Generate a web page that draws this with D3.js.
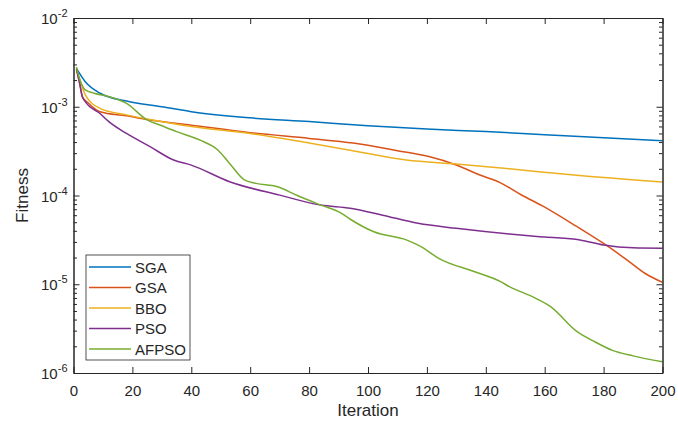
<!DOCTYPE html>
<html>
<head>
<meta charset="utf-8">
<script src="https://cdn.jsdelivr.net/npm/d3@7"></script>
<style>
  body { margin: 0; background: #fff; }
  text { font-family: "Liberation Sans", Arial, sans-serif; fill: #262626; }
</style>
</head>
<body>
<svg id="chart" width="678" height="421"></svg>
<script>
// data (iteration, fitness)
var seriesNames = ["SGA", "GSA", "BBO", "PSO", "AFPSO"];
var seriesColors = ["#0072BD", "#D95319", "#EDB120", "#7E2F8E", "#77AC30"];

var sgaIter = [1, 4, 9, 18, 30, 40, 60, 80, 100, 120, 140, 160, 180, 200];
var sgaVal  = [2.7e-3, 1.91e-3, 1.42e-3, 1.16e-3, 1.0e-3, 8.8e-4, 7.5e-4, 6.8e-4, 6.1e-4, 5.6e-4, 5.25e-4, 4.85e-4, 4.47e-4, 4.15e-4];

var gsaIter = [1, 2, 3, 5, 9, 18, 26, 40, 60, 80, 95, 110, 121, 130, 138, 145, 152, 160, 171, 180, 188, 194, 200];
var gsaVal  = [2.6e-3, 1.9e-3, 1.3e-3, 1.1e-3, 8.8e-4, 7.9e-4, 7.1e-4, 6.2e-4, 5.1e-4, 4.4e-4, 3.9e-4, 3.2e-4, 2.73e-4, 2.21e-4, 1.7e-4, 1.39e-4, 1.02e-4, 7.4e-5, 4.45e-5, 2.88e-5, 1.87e-5, 1.33e-5, 1.05e-5];

var bboIter = [1, 2, 4, 9, 18, 26, 40, 60, 80, 94, 113, 130, 148, 170, 200];
var bboVal  = [2.6e-3, 2.1e-3, 1.36e-3, 9.6e-4, 8.1e-4, 7.2e-4, 6.0e-4, 5.0e-4, 3.9e-4, 3.24e-4, 2.51e-4, 2.26e-4, 2.0e-4, 1.7e-4, 1.42e-4];

var psoIter = [1, 2, 3, 4, 9, 12, 18, 26, 34, 40, 53, 70, 84, 94, 105, 117, 130, 148, 160, 172, 180, 190, 200];
var psoVal  = [2.7e-3, 1.9e-3, 1.3e-3, 1.14e-3, 8.4e-4, 6.8e-4, 5.0e-4, 3.55e-4, 2.51e-4, 2.2e-4, 1.43e-4, 1.01e-4, 7.8e-5, 7.2e-5, 6.0e-5, 4.86e-5, 4.27e-5, 3.68e-5, 3.4e-5, 3.16e-5, 2.77e-5, 2.57e-5, 2.54e-5];

var afpsoIter = [1, 2, 4, 7, 12, 18, 25, 30, 35, 43, 49, 53, 58, 62, 69, 76, 84, 91, 94, 102, 113, 118, 124, 136, 145, 148, 156, 162, 171, 177, 183, 190, 200];
var afpsoVal  = [2.8e-3, 2.1e-3, 1.55e-3, 1.42e-3, 1.3e-3, 1.09e-3, 7.1e-4, 6.1e-4, 5.25e-4, 4.2e-4, 3.26e-4, 2.3e-4, 1.5e-4, 1.37e-4, 1.26e-4, 1.0e-4, 7.8e-5, 6.3e-5, 5.4e-5, 3.9e-5, 3.16e-5, 2.65e-5, 1.96e-5, 1.39e-5, 1.07e-5, 9.4e-6, 7.2e-6, 5.6e-6, 2.92e-6, 2.25e-6, 1.8e-6, 1.56e-6, 1.34e-6];

var xTicks = [0, 20, 40, 60, 80, 100, 120, 140, 160, 180, 200];
var yDecades = [-6, -5, -4, -3, -2];

var allIter = [sgaIter, gsaIter, bboIter, psoIter, afpsoIter];
var allVal = [sgaVal, gsaVal, bboVal, psoVal, afpsoVal];

// layout
var plotL = 73.5, plotR = 662.5, plotT = 18, plotB = 373;
var axisColor = "#262626";

var svg = d3.select("#chart");

var x = d3.scaleLinear().domain([0, 200]).range([plotL, plotR]);
var y = d3.scaleLog().domain([1e-6, 1e-2]).range([plotB, plotT]);

// minor log ticks
var minorVals = [];
yDecades.slice(0, -1).forEach(function(e) {
  for (var k = 2; k <= 9; k++) minorVals.push(k * Math.pow(10, e));
});
var majorVals = yDecades.map(function(e) { return Math.pow(10, e); });

var g = svg.append("g");

// lines
var line = d3.line()
  .curve(d3.curveMonotoneX)
  .x(function(d) { return x(d[0]); })
  .y(function(d) { return y(d[1]); });

seriesNames.forEach(function(name, i) {
  var pts = allIter[i].map(function(it, j) { return [it, allVal[i][j]]; });
  g.append("path")
    .datum(pts)
    .attr("fill", "none")
    .attr("stroke", seriesColors[i])
    .attr("stroke-width", 1.5)
    .attr("stroke-linejoin", "round")
    .attr("d", line);
});

// axes (MATLAB style, ticks inside, box on)
var xAxisB = d3.axisBottom(x).tickValues(xTicks).tickSize(-6).tickPadding(12).tickSizeOuter(0);
var xAxisT = d3.axisTop(x).tickValues(xTicks).tickSize(-6).tickFormat("").tickSizeOuter(0);
var yAxisL = d3.axisLeft(y).tickValues(majorVals).tickSize(-6).tickFormat("").tickSizeOuter(0);
var yAxisR = d3.axisRight(y).tickValues(majorVals).tickSize(-6).tickFormat("").tickSizeOuter(0);
var yMinorL = d3.axisLeft(y).tickValues(minorVals).tickSize(-3.5).tickFormat("").tickSizeOuter(0);
var yMinorR = d3.axisRight(y).tickValues(minorVals).tickSize(-3.5).tickFormat("").tickSizeOuter(0);

function style(sel) {
  sel.selectAll("path, line").attr("stroke", axisColor).attr("stroke-width", 1);
  sel.selectAll("text").attr("fill", axisColor).style("font-size", "15px")
    .style("font-family", "'Liberation Sans', Arial, sans-serif");
}

svg.append("g").attr("transform", "translate(0," + plotB + ")").call(xAxisB).call(style);
svg.append("g").attr("transform", "translate(0," + plotT + ")").call(xAxisT).call(style);
svg.append("g").attr("transform", "translate(" + plotL + ",0)").call(yAxisL).call(style);
svg.append("g").attr("transform", "translate(" + plotR + ",0)").call(yAxisR).call(style);
svg.append("g").attr("transform", "translate(" + plotL + ",0)").call(yMinorL).call(style);
svg.append("g").attr("transform", "translate(" + plotR + ",0)").call(yMinorR).call(style);

// y tick labels as 10^n
var ylab = svg.append("g");
yDecades.forEach(function(e) {
  var t = ylab.append("text")
    .attr("x", plotL - 6)
    .attr("y", y(Math.pow(10, e)) + 6)
    .attr("text-anchor", "end")
    .style("font-size", "15px");
  t.append("tspan").text("10");
  t.append("tspan").attr("dy", -7).style("font-size", "11px").text(String(e));
});

// axis titles
svg.append("text")
  .attr("x", (plotL + plotR) / 2)
  .attr("y", 416)
  .attr("text-anchor", "middle")
  .style("font-size", "17px")
  .text("Iteration");

svg.append("text")
  .attr("transform", "translate(28," + ((plotT + plotB) / 2) + ") rotate(-90)")
  .attr("text-anchor", "middle")
  .style("font-size", "17px")
  .text("Fitness");

// legend
var lg = svg.append("g").attr("transform", "translate(86,255)");
lg.append("rect")
  .attr("width", 104).attr("height", 105)
  .attr("fill", "#fff")
  .attr("stroke", axisColor).attr("stroke-width", 0.8);

var rows = lg.selectAll(".legend")
  .data(seriesNames)
  .enter()
  .append("g")
  .attr("class", "legend")
  .attr("transform", function(d, i) { return "translate(0," + (12 + i * 20.5) + ")"; });

rows.append("line")
  .attr("x1", 3).attr("x2", 45)
  .attr("stroke", function(d, i) { return seriesColors[i]; })
  .attr("stroke-width", 1.5);

rows.append("text")
  .attr("x", 49)
  .attr("y", 5.5)
  .style("font-size", "15px")
  .text(function(d) { return d; });
</script>
</body>
</html>
